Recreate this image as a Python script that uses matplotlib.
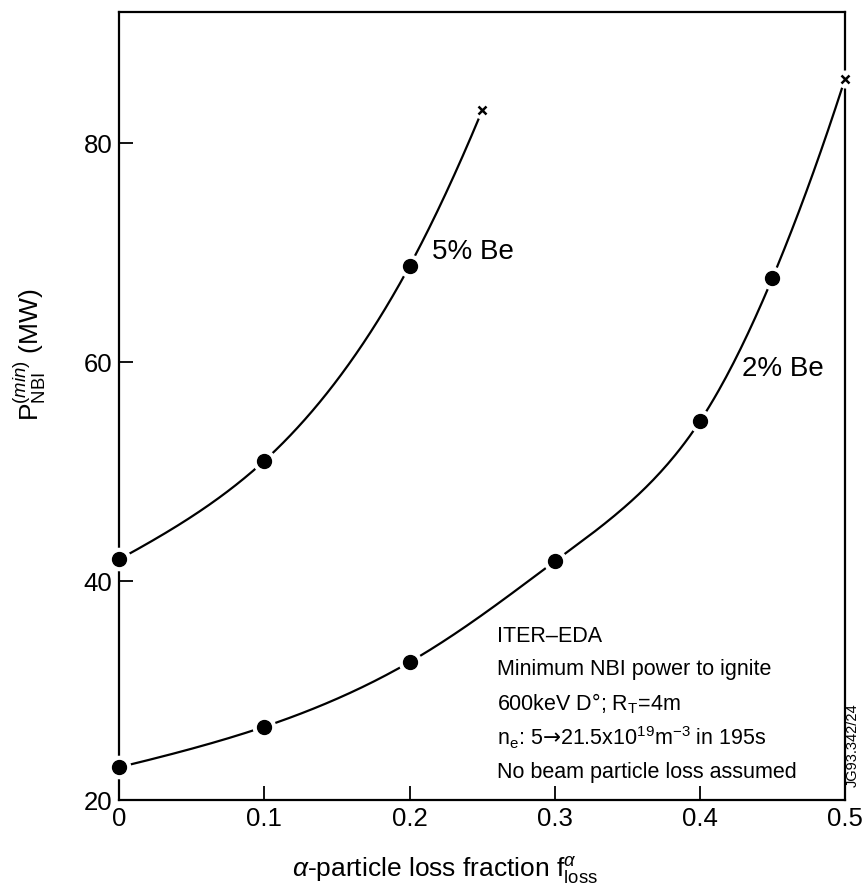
import numpy as np
import matplotlib
matplotlib.use("Agg")
import matplotlib.pyplot as plt

plt.rcParams['font.family'] = ['Liberation Sans', 'DejaVu Sans']
plt.rcParams['mathtext.fontset'] = 'custom'
plt.rcParams['mathtext.rm'] = 'Liberation Sans'
plt.rcParams['mathtext.it'] = 'Liberation Sans:italic'
plt.rcParams['mathtext.bf'] = 'Liberation Sans:bold'
plt.rcParams['mathtext.sf'] = 'DejaVu Sans'

# data
floss_5 = [0.0, 0.1, 0.2]
pnbi_5 = [42.0, 51.0, 68.8]
floss_5_end = 0.25
pnbi_5_end = 83.0

floss_2 = [0.0, 0.1, 0.2, 0.3, 0.4, 0.45]
pnbi_2 = [23.0, 26.7, 32.6, 41.8, 54.6, 67.7]
floss_2_end = 0.5
pnbi_2_end = 85.9

x_ticks = [0, 0.1, 0.2, 0.3, 0.4, 0.5]
x_ticklabels = ['0', '0.1', '0.2', '0.3', '0.4', '0.5']
y_ticks = [20, 40, 60, 80]

info_lines = [
    'ITER\u2013EDA',
    'Minimum NBI power to ignite',
    r'600keV D°; R$_\mathrm{T}$=4m',
    r'n$_\mathrm{e}$: 5$\mathsf{→}$21.5x10$^\mathrm{19}$m$^\mathrm{-3}$ in 195s',
    'No beam particle loss assumed',
]


def spline(xs, ys, n=300):
    # natural cubic spline through log(y), only used to draw the smooth curve
    xs = np.asarray(xs, float)
    ys = np.log(np.asarray(ys, float))
    k = len(xs)
    h = np.diff(xs)
    A = np.zeros((k, k))
    b = np.zeros(k)
    A[0, 0] = A[-1, -1] = 1
    for i in range(1, k - 1):
        A[i, i - 1] = h[i - 1]
        A[i, i] = 2 * (h[i - 1] + h[i])
        A[i, i + 1] = h[i]
        b[i] = 6 * ((ys[i + 1] - ys[i]) / h[i] - (ys[i] - ys[i - 1]) / h[i - 1])
    M = np.linalg.solve(A, b)
    xx = np.linspace(xs[0], xs[-1], n)
    idx = np.clip(np.searchsorted(xs, xx) - 1, 0, k - 2)
    x0, x1 = xs[idx], xs[idx + 1]
    hh = x1 - x0
    yy = (M[idx] * (x1 - xx) ** 3 / (6 * hh) + M[idx + 1] * (xx - x0) ** 3 / (6 * hh)
          + (ys[idx] / hh - M[idx] * hh / 6) * (x1 - xx)
          + (ys[idx + 1] / hh - M[idx + 1] * hh / 6) * (xx - x0))
    return xx, np.exp(yy)


fig = plt.figure(figsize=(8.63, 8.94), dpi=100)
ax = fig.add_axes([0.1382, 0.1051, 0.8410, 0.8815])

for xs, ys, xe, ye in [(floss_5, pnbi_5, floss_5_end, pnbi_5_end),
                       (floss_2, pnbi_2, floss_2_end, pnbi_2_end)]:
    xx, yy = spline(xs + [xe], ys + [ye])
    ax.plot(xx, yy, color='black', lw=1.6, zorder=2, clip_on=False)
    ax.plot(xs, ys, 'o', ms=16, color='white', zorder=3, clip_on=False)
    ax.plot(xs, ys, 'o', ms=10, color='black', zorder=4, clip_on=False)
    ax.plot([xe], [ye], 'o', ms=12, color='white', zorder=3, clip_on=False)
    ax.plot([xe], [ye], 'x', ms=6, mew=1.8, color='black', zorder=4, clip_on=False)

ax.set_xlim(0, 0.5)
ax.set_ylim(20, 92)
ax.set_xticks(x_ticks)
ax.set_xticklabels(x_ticklabels)
ax.set_yticks(y_ticks)
ax.tick_params(direction='in', length=10, width=1.3, labelsize=18.5, pad=5)
for s in ax.spines.values():
    s.set_linewidth(1.6)

ax.text(0.2155, 70.1, '5% Be', fontsize=20, va='center', ha='left')
ax.text(0.429, 59.4, '2% Be', fontsize=20, va='center', ha='left')

info_y = [34.4, 31.4, 28.2, 25.0, 22.0]
for line, yy in zip(info_lines, info_y):
    ax.text(0.2605, yy, line, fontsize=15.5, va='baseline', ha='left')

fig.text(853 / 863, 1 - 745 / 894, 'JG93.342/24', rotation=90, fontsize=10.5,
         ha='center', va='center')

fig.text(445 / 863, 1 - 870 / 894,
         r'$\alpha$-particle loss fraction f$^{\alpha}_\mathrm{loss}$',
         fontsize=19, ha='center', va='center')
fig.text(30 / 863, 1 - 355 / 894,
         r'P$_\mathrm{NBI}^{(min)}$ (MW)',
         fontsize=19, rotation=90, ha='center', va='center')

fig.savefig('out.png', dpi=100)
